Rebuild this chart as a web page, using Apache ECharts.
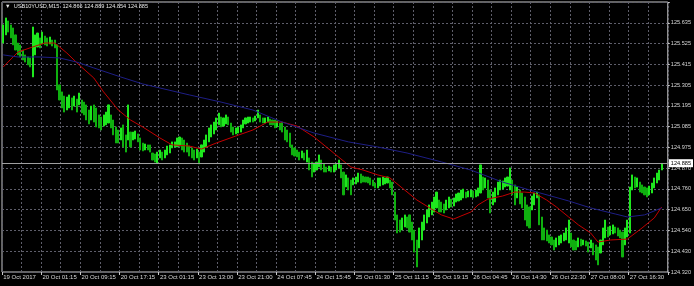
<!DOCTYPE html>
<html><head><meta charset="utf-8">
<script src="https://cdn.jsdelivr.net/npm/echarts@6/dist/echarts.min.js"></script>
<style>html,body{margin:0;padding:0;background:#000;}#c{width:694px;height:286px;}</style>
</head><body><div id="c"></div>
<script>
const symbolTitle = 'USB10YUSD,M15';
const lastOHLC = ['124.866', '124.889', '124.854', '124.885'];
const bidPrice = 124.885;
const barCount = 272;
const xTickLabels = ['19 Oct 2017','20 Oct 01:15','20 Oct 09:15','20 Oct 17:15','23 Oct 01:15','23 Oct 13:00','23 Oct 21:00','24 Oct 07:45','24 Oct 15:45','25 Oct 01:30','25 Oct 11:15','25 Oct 19:15','26 Oct 04:45','26 Oct 14:30','26 Oct 22:30','27 Oct 08:00','27 Oct 16:30'];
const yTickLabels = ['124.320','124.430','124.540','124.650','124.760','124.870','124.975','125.085','125.195','125.305','125.415','125.525','125.635'];

const highs = [
125.623,125.660,125.644,125.623,125.607,125.570,125.527,125.517,125.490,125.464,
125.453,125.448,125.612,125.570,125.580,125.554,125.585,125.564,125.554,125.559,
125.543,125.543,125.517,125.305,125.268,125.246,125.241,125.252,125.236,125.246,
125.230,125.262,125.225,125.214,125.199,125.172,125.193,125.199,125.183,125.146,
125.135,125.146,125.161,125.199,125.146,125.119,125.082,125.066,125.077,125.093,
125.040,125.199,125.055,125.055,125.061,125.045,125.024,124.997,124.992,124.987,
124.987,124.944,124.939,124.949,124.960,124.949,124.960,124.981,124.987,125.003,
125.003,125.024,125.029,125.024,125.013,124.997,124.981,124.971,124.960,124.965,
124.949,124.987,125.013,125.040,125.077,125.093,125.108,125.130,125.156,125.135,
125.130,125.146,125.135,125.103,125.082,125.077,125.082,125.093,125.119,125.130,
125.135,125.135,125.130,125.140,125.172,125.146,125.130,125.130,125.135,125.124,
125.119,125.119,125.114,125.103,125.108,125.082,125.066,125.050,124.987,124.971,
124.960,124.949,124.955,124.944,124.960,124.918,124.896,124.891,124.896,124.934,
124.907,124.886,124.870,124.875,124.870,124.881,124.886,124.907,124.881,124.843,
124.828,124.812,124.801,124.812,124.817,124.838,124.833,124.822,124.817,124.817,
124.812,124.801,124.785,124.812,124.812,124.817,124.812,124.817,124.801,124.790,
124.737,124.616,124.589,124.600,124.616,124.605,124.616,124.578,124.536,124.483,
124.547,124.578,124.616,124.642,124.669,124.684,124.711,124.737,124.695,124.684,
124.674,124.695,124.711,124.700,124.706,124.727,124.732,124.748,124.753,124.737,
124.743,124.748,124.743,124.748,124.759,124.881,124.817,124.812,124.801,124.748,
124.737,124.759,124.790,124.801,124.796,124.812,124.817,124.865,124.801,124.775,
124.764,124.748,124.732,124.711,124.669,124.658,124.716,124.732,124.737,124.722,
124.605,124.547,124.536,124.510,124.499,124.483,124.494,124.504,124.510,124.520,
124.547,124.589,124.520,124.483,124.478,124.494,124.488,124.483,124.478,124.472,
124.483,124.467,124.457,124.446,124.483,124.547,124.589,124.552,124.557,124.563,
124.552,124.547,124.536,124.525,124.547,124.589,124.764,124.828,124.817,124.812,
124.790,124.775,124.764,124.759,124.769,124.785,124.812,124.838,124.854,124.889
];
const lows = [
125.527,125.570,125.585,125.554,125.517,125.490,125.464,125.453,125.437,125.426,
125.411,125.400,125.347,125.464,125.506,125.501,125.522,125.517,125.511,125.522,
125.511,125.501,125.278,125.225,125.183,125.161,125.172,125.183,125.172,125.193,
125.161,125.199,125.156,125.146,125.119,125.098,125.119,125.108,125.082,125.077,
125.066,125.087,125.093,125.103,125.077,125.040,124.997,124.997,125.013,124.976,
124.949,125.013,124.976,125.013,125.018,125.003,124.960,124.955,124.960,124.960,
124.949,124.907,124.896,124.891,124.918,124.907,124.918,124.934,124.944,124.971,
124.976,124.976,124.981,124.960,124.949,124.949,124.928,124.918,124.907,124.918,
124.886,124.923,124.949,124.976,125.003,125.029,125.045,125.066,125.093,125.082,
125.087,125.098,125.093,125.055,125.040,125.045,125.050,125.055,125.077,125.098,
125.103,125.108,125.108,125.114,125.130,125.108,125.103,125.103,125.108,125.093,
125.093,125.077,125.082,125.066,125.055,125.013,125.003,124.976,124.934,124.928,
124.923,124.907,124.918,124.907,124.896,124.854,124.817,124.843,124.854,124.870,
124.854,124.843,124.843,124.849,124.843,124.843,124.854,124.865,124.812,124.722,
124.764,124.748,124.722,124.775,124.780,124.790,124.785,124.790,124.790,124.785,
124.775,124.769,124.759,124.759,124.769,124.775,124.780,124.785,124.759,124.722,
124.589,124.520,124.525,124.536,124.552,124.547,124.525,124.483,124.419,124.340,
124.441,124.483,124.536,124.573,124.605,124.616,124.631,124.653,124.631,124.631,
124.626,124.642,124.653,124.658,124.663,124.684,124.690,124.695,124.706,124.706,
124.711,124.711,124.706,124.711,124.716,124.732,124.748,124.759,124.706,124.626,
124.669,124.684,124.722,124.748,124.753,124.764,124.769,124.748,124.722,124.669,
124.706,124.674,124.653,124.589,124.557,124.547,124.642,124.669,124.706,124.563,
124.483,124.483,124.478,124.467,124.457,124.430,124.446,124.457,124.467,124.478,
124.483,124.467,124.446,124.430,124.430,124.446,124.451,124.457,124.451,124.419,
124.441,124.404,124.377,124.351,124.414,124.457,124.494,124.499,124.510,124.515,
124.520,124.504,124.494,124.393,124.457,124.499,124.520,124.748,124.759,124.764,
124.737,124.732,124.722,124.711,124.722,124.732,124.759,124.785,124.801,124.854
];

const redMAIdx = [0,6,12,17,21,22,26,31,37,41,47,52,57,64,69,76,81,87,95,102,108,114,120,127,137,142,147,153,158,164,169,175,179,184,187,191,194,198,204,209,213,217,222,226,231,235,240,243,248,255,261,266,269];
const redMAVal = [125.400,125.479,125.506,125.527,125.527,125.517,125.474,125.411,125.342,125.268,125.172,125.119,125.082,125.024,124.987,124.981,124.965,124.997,125.034,125.066,125.108,125.108,125.087,125.029,124.923,124.870,124.854,124.828,124.812,124.748,124.695,124.647,124.616,124.594,124.610,124.631,124.669,124.700,124.716,124.737,124.737,124.732,124.695,124.658,124.605,124.563,124.520,124.472,124.483,124.488,124.547,124.600,124.658];
const blueMAIdx = [0,6,15,23,30,37,48,57,76,89,102,114,127,141,153,165,179,191,204,218,231,240,250,255,262,269];
const blueMAVal = [125.464,125.453,125.453,125.448,125.426,125.395,125.347,125.310,125.252,125.214,125.172,125.108,125.050,125.003,124.976,124.944,124.897,124.854,124.790,124.737,124.690,124.653,124.621,124.605,124.616,124.653];

const FONT = 'Liberation Sans';
const categories = Array.from({length: barCount}, (_, i) => String(i));
const candles = highs.map((h, i) => {
  const l = lows[i];
  const mid = (h + l) / 2;
  const prevMid = i > 0 ? (highs[i-1] + lows[i-1]) / 2 : mid;
  return mid >= prevMid ? [l, h, l, h] : [h, l, l, h];
});
const redData = redMAIdx.map((x, k) => [x, redMAVal[k]]);
const blueData = blueMAIdx.map((x, k) => [x, blueMAVal[k]]);
const yLabelFor = v => {
  const k = Math.round(Number(v));
  return (Math.abs(Number(v) - k) < 1e-6 && yTickLabels[k]) ? yTickLabels[k] : '';
};

const gridColor = '#5e5e6a';
const chart = echarts.init(document.getElementById('c'), null, {renderer: 'canvas'});
chart.setOption({
  backgroundColor: '#000000',
  animation: false,
  title: {
    text: '\u25BC  ' + symbolTitle + '  ' + lastOHLC.join(' '),
    left: 5, top: 3, padding: 0,
    textStyle: {color: '#e6e6e6', fontSize: 5.6, fontWeight: 'normal', fontFamily: FONT}
  },
  grid: {left: 2, right: 26, top: 2, bottom: 14, show: true, borderColor: '#c8c8c8', borderWidth: 1, backgroundColor: '#000000'},
  xAxis: {
    type: 'category', data: categories, boundaryGap: true,
    axisLine: {show: false},
    axisTick: {show: true, interval: 15, length: 3, lineStyle: {color: '#c8c8c8'}},
    axisLabel: {
      interval: 15, align: 'left', margin: 2, fontSize: 6, color: '#d8d8d8', fontFamily: FONT,
      formatter: (v, idx) => (idx % 16 === 0 && xTickLabels[idx / 16]) ? xTickLabels[idx / 16] : ''
    },
    splitLine: {show: true, interval: 7, lineStyle: {color: gridColor, type: [2, 2], width: 1}}
  },
  yAxis: [
    {type: 'value', min: 124.3134, max: 125.7444, show: false, scale: true},
    {
      type: 'value', position: 'right', min: 0, max: 13, interval: 1,
      axisLine: {show: false},
      axisTick: {show: true, length: 2, lineStyle: {color: '#c8c8c8'}},
      axisLabel: {
        show: true, margin: 3, fontSize: 5.6, color: '#d8d8d8', fontFamily: FONT,
        showMinLabel: true, showMaxLabel: true, hideOverlap: false,
        formatter: yLabelFor
      },
      splitLine: {show: true, lineStyle: {color: gridColor, type: [2, 2], width: 1}}
    }
  ],
  series: [
    {
      type: 'candlestick', yAxisIndex: 0, data: candles, barWidth: 1.6,
      itemStyle: {color: '#1ee81e', color0: '#0fb00f', borderColor: '#1ee81e', borderColor0: '#0fb00f', borderWidth: 1},
      markLine: {
        silent: true, symbol: ['none', 'none'], animation: false,
        data: [{yAxis: bidPrice}],
        lineStyle: {color: '#a0a0a0', type: 'solid', width: 1},
        label: {position: 'end', distance: 1, formatter: lastOHLC[3], backgroundColor: '#ffffff', color: '#000000',
                fontSize: 5.6, fontFamily: FONT, padding: [1, 2, 1, 2]}
      }
    },
    {type: 'line', yAxisIndex: 0, data: redData, symbol: 'none', lineStyle: {color: '#c40000', width: 1}, z: 3},
    {type: 'line', yAxisIndex: 0, data: blueData, symbol: 'none', lineStyle: {color: '#1e1e86', width: 1}, z: 3}
  ]
});
</script></body></html>
